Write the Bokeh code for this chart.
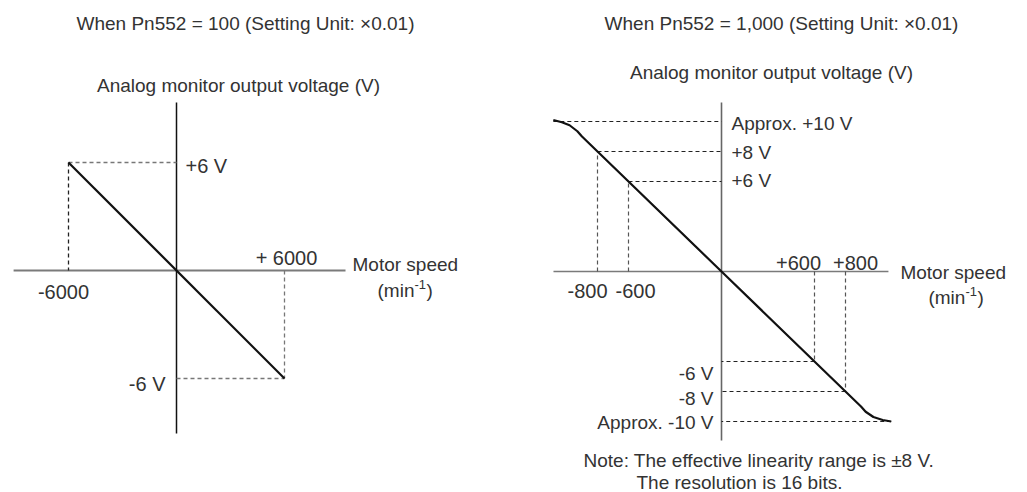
from bokeh.plotting import figure
from bokeh.models import Label, Range1d
from bokeh.layouts import row
from bokeh.embed import file_html
from bokeh.resources import INLINE
import numpy as np

# ---------------- data ----------------
# Left diagram: Pn552 = 100
LEFT_TITLE = "When Pn552 = 100 (Setting Unit: \u00d70.01)"
LEFT_SPEED = [-6000, 6000]          # min^-1
LEFT_VOLT = [6, -6]                 # V
LEFT_SPEED_LABELS = ["-6000", "+ 6000"]
LEFT_VOLT_LABELS = ["+6 V", "-6 V"]

# Right diagram: Pn552 = 1,000
RIGHT_TITLE = "When Pn552 = 1,000 (Setting Unit: \u00d70.01)"
RIGHT_SPEED = [-1085, -1030, -980, -930, -900, 0, 900, 930, 980, 1040, 1095]
RIGHT_VOLT = [10.1, 9.95, 9.75, 9.35, 9.0, 0, -9.0, -9.35, -9.7, -9.9, -10.0]
RIGHT_SPEED_MARKS = [-800, -600, 600, 800]
RIGHT_SPEED_LABELS = ["-800", "-600", "+600", "+800"]
RIGHT_VOLT_MARKS = [10, 8, 6, -6, -8, -10]
RIGHT_VOLT_LABELS = ["Approx. +10 V", "+8 V", "+6 V", "-6 V", "-8 V", "Approx. -10 V"]

Y_TITLE = "Analog monitor output voltage (V)"
X_TITLE = "Motor speed"
NOTE = ["Note: The effective linearity range is \u00b18 V.", "The resolution is 16 bits."]

# ---------------- style ----------------
FONT = "Liberation Sans"
FS = "19px"
FS_NUM = "20px"
TXT = "#333333"
H = 492
LW = 508
RW = 519


def mkfig(w, xr, yr):
    p = figure(width=w, height=H, x_range=Range1d(*xr), y_range=Range1d(*yr),
               output_backend="svg", toolbar_location=None,
               x_axis_location=None, y_axis_location=None, min_border=0)
    p.grid.visible = False
    p.outline_line_color = None
    p.background_fill_color = "white"
    p.border_fill_color = "white"
    return p


def lab(p, x, y, text, dx=0, dy=0, align="left", size=FS, units="data", baseline="middle"):
    p.add_layout(Label(x=x, y=y, x_units=units, y_units=units, x_offset=dx, y_offset=-dy,
                       text=text, text_align=align, text_baseline=baseline,
                       text_font=FONT, text_font_size=size, text_color=TXT))


def unit_label(p, x, y, dx, dy):
    lab(p, x, y, "(min", dx=dx, dy=dy)
    lab(p, x, y, "-1", dx=dx + 37, dy=dy - 6, size="13px")
    lab(p, x, y, ")", dx=dx + 49, dy=dy)


# ---------------- left figure ----------------
lx_px, ly_px = 0.018, 18.0          # px per unit
lox, loy = 176, 270                 # origin in figure px (from left / top)
pl = mkfig(LW, (-lox / lx_px, (LW - lox) / lx_px), (-(H - loy) / ly_px, loy / ly_px))

LAX = (-9050, 9390)
LAY = (-9.06, 9.33)
pl.line(list(LAX), [0, 0], line_color="#7a7a7a", line_width=2)
pl.line([0, 0], list(LAY), line_color="#111111", line_width=1.5)

# dashed guides
pl.line([LEFT_SPEED[0], 0], [LEFT_VOLT[0]] * 2, line_color="#777777", line_width=1.3, line_dash="4 3")
pl.line([LEFT_SPEED[0]] * 2, [LEFT_VOLT[0], 0], line_color="#222222", line_width=1.3, line_dash="4 3")
pl.line([0, LEFT_SPEED[1]], [LEFT_VOLT[1]] * 2, line_color="#777777", line_width=1.3, line_dash="4 3")
pl.line([LEFT_SPEED[1]] * 2, [0, LEFT_VOLT[1]], line_color="#777777", line_width=1.3, line_dash="4 3")
pl.line(LEFT_SPEED, LEFT_VOLT, line_color="#111111", line_width=2.2)

lab(pl, 0, LEFT_VOLT[0], LEFT_VOLT_LABELS[0], dx=9, dy=3, size=FS_NUM)
lab(pl, 0, LEFT_VOLT[1], LEFT_VOLT_LABELS[1], dx=-11, dy=5, align="right", size=FS_NUM)
lab(pl, LEFT_SPEED[0], 0, LEFT_SPEED_LABELS[0], dx=-5, dy=21, align="center", size=FS_NUM)
lab(pl, LEFT_SPEED[1], 0, LEFT_SPEED_LABELS[1], dx=2, dy=-13, align="center", size=FS_NUM)
lab(pl, LAX[1], 0, X_TITLE, dx=7, dy=-6)
unit_label(pl, LAX[1], 0, 32, 20)
lab(pl, 245, H - 23, LEFT_TITLE, align="center", units="screen")
lab(pl, 238, H - 85, Y_TITLE, align="center", units="screen")

# ---------------- right figure ----------------
rx_px, ry_px = 0.155, 15.0
rox, roy = 213, 271
pr = mkfig(RW, (-rox / rx_px, (RW - rox) / rx_px), (-(H - roy) / ry_px, roy / ry_px))

RAX = (-1084, 1077)
RAY = (-11.27, 11.27)
pr.line(list(RAX), [0, 0], line_color="#7a7a7a", line_width=1.6)
pr.line([0, 0], list(RAY), line_color="#666666", line_width=1.6)

# speed at each marked voltage from the curve
sp_rev = RIGHT_SPEED[::-1]
v_rev = RIGHT_VOLT[::-1]
for v in RIGHT_VOLT_MARKS:
    if abs(v) >= 10:
        s = RIGHT_SPEED[0] if v > 0 else RIGHT_SPEED[-1]
    else:
        s = float(np.interp(v, v_rev, sp_rev))
    pr.line([s, 0], [v, v], line_color="#222222", line_width=1.2, line_dash="4 3")
for s in RIGHT_SPEED_MARKS:
    v = float(np.interp(s, RIGHT_SPEED, RIGHT_VOLT))
    pr.line([s, s], [0, v], line_color="#555555", line_width=1.2, line_dash="4 3")

pr.line(RIGHT_SPEED, RIGHT_VOLT, line_color="#111111", line_width=2.2)

v_dy = [2, 1, -1, 12, 7, 1]
for v, t, d in zip(RIGHT_VOLT_MARKS, RIGHT_VOLT_LABELS, v_dy):
    if v > 0:
        lab(pr, 0, v, t, dx=10, dy=d)
    else:
        lab(pr, 0, v, t, dx=-8, dy=d, align="right")
s_dx = [-10, 7, -16, 10]
for s, t, d in zip(RIGHT_SPEED_MARKS, RIGHT_SPEED_LABELS, s_dx):
    if s < 0:
        lab(pr, s, 0, t, dx=d, dy=19, align="center", size=FS_NUM)
    else:
        lab(pr, s, 0, t, dx=d, dy=-9, align="center", size=FS_NUM)
lab(pr, RAX[1], 0, X_TITLE, dx=12, dy=1)
unit_label(pr, RAX[1], 0, 40, 26)
lab(pr, 273, H - 23, RIGHT_TITLE, align="center", units="screen")
lab(pr, 263, H - 72, Y_TITLE, align="center", units="screen")
lab(pr, 75, H - 460, NOTE[0], units="screen")
lab(pr, 128, H - 482, NOTE[1], units="screen")

layout = row(pl, pr, spacing=0)
open("out.html", "w").write(file_html(layout, INLINE))
